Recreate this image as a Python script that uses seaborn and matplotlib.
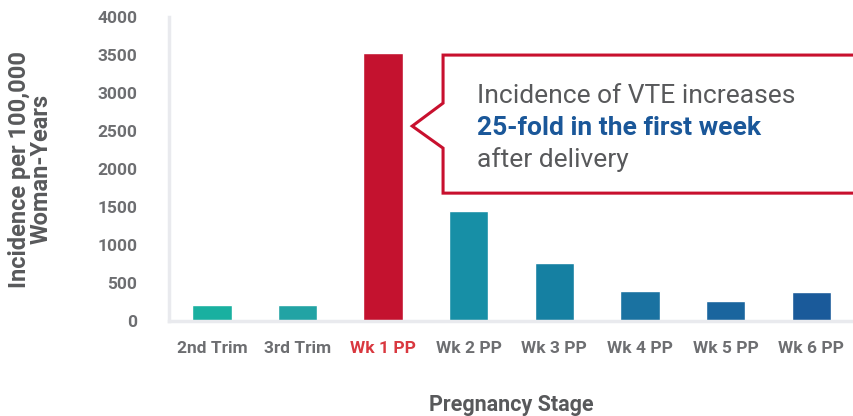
import seaborn as sns
import matplotlib.pyplot as plt
from matplotlib.patches import Polygon
import pandas as pd

stages = ['2nd Trim', '3rd Trim', 'Wk 1 PP', 'Wk 2 PP', 'Wk 3 PP', 'Wk 4 PP', 'Wk 5 PP', 'Wk 6 PP']
incidence = [210, 210, 3530, 1450, 765, 395, 265, 385]
bar_colors = ['#19b0a0', '#22a3a4', '#c4122f', '#178fa6', '#1580a2', '#1a72a1', '#1a659e', '#1a5a9a']
yticks = [0, 500, 1000, 1500, 2000, 2500, 3000, 3500, 4000]

df = pd.DataFrame({'stage': stages, 'incidence': incidence})

sns.set_style('white')
plt.rcParams['font.family'] = ['Roboto', 'DejaVu Sans']

grey = '#6d6e71'
line_grey = '#e9eaee'

fig = plt.figure(figsize=(8.54, 4.16), dpi=100)
ax = fig.add_axes([0.198, 0.228, 0.802, 0.731])

sns.barplot(data=df, x='stage', y='incidence', hue='stage', palette=bar_colors,
            legend=False, width=0.46, saturation=1, ax=ax)

ax.set_xlim(-0.5, 7.5)
ax.set_ylim(0, 4000)
ax.set_yticks(yticks)
ax.set_yticklabels([str(v) for v in yticks], fontsize=12.5, fontweight='bold', color=grey)
ax.set_xticks(range(len(stages)))
ax.set_xticklabels(stages, fontsize=12.5, fontweight='bold', color=grey)
ax.get_xticklabels()[2].set_color('#d9383f')

ax.tick_params(axis='y', length=14, width=2, color=line_grey, pad=9)
ax.tick_params(axis='x', length=0, pad=14)
ax.set_xticks([i + 0.5 for i in range(len(stages) - 1)], minor=True)
ax.tick_params(axis='x', which='minor', direction='in', length=12, width=2, color=line_grey)

for s in ['top', 'right']:
    ax.spines[s].set_visible(False)
for s in ['left', 'bottom']:
    ax.spines[s].set_color(line_grey)
    ax.spines[s].set_linewidth(2.5)

ax.set_ylabel('Incidence per 100,000\nWoman-Years', fontsize=17, fontweight='bold',
              color='#58595b', linespacing=0.95, labelpad=32)
ax.set_xlabel('Pregnancy Stage', fontsize=15.5, fontweight='bold', color='#58595b', labelpad=28)

# callout box
callout = Polygon([(2.70, 3500), (7.8, 3500), (7.8, 1684), (2.70, 1684),
                   (2.70, 2276), (2.34, 2566), (2.70, 2868)],
                  closed=True, facecolor='white', edgecolor='#c8102e', linewidth=2.2,
                  clip_on=False, zorder=5)
ax.add_patch(callout)
ax.text(3.10, 2868, 'Incidence of VTE increases', fontsize=19, color='#58595b', zorder=6)
ax.text(3.10, 2447, '25-fold in the first week', fontsize=19, fontweight='bold',
        color='#1a5799', zorder=6)
ax.text(3.10, 2026, 'after delivery', fontsize=19, color='#58595b', zorder=6)

fig.savefig('out.png', dpi=100)
